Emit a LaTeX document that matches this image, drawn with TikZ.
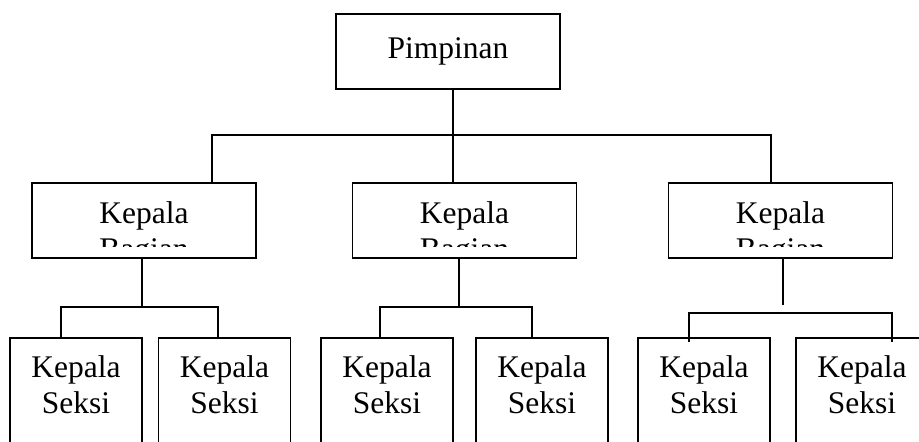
\documentclass[tikz,border=0pt]{standalone}
\usepackage{fontspec}
\setmainfont{Liberation Serif}
\usetikzlibrary{positioning, calc}
\tikzstyle{box} = [rectangle, draw=black, line width=1.8pt, inner sep=0pt, align=center, font=\fontsize{31.5}{36}\selectfont]
\tikzstyle{bagian} = [box, minimum width=224pt, minimum height=75pt]
\tikzstyle{seksi} = [box, anchor=north, minimum width=132pt, text height=76pt, text depth=60pt, inner ysep=0pt]
\tikzstyle{teks} = [inner sep=0pt, anchor=base, align=center, font=\fontsize{31.5}{36}\selectfont]
\tikzstyle{line} = [line width=1.8pt]

\begin{document}
\begin{tikzpicture}[x=1pt, y=-1pt]
  \useasboundingbox (0,0) rectangle (919,442);
  \clip (0,0) rectangle (919,442);

  % top
  \node[box, minimum width=224pt, minimum height=75pt] (pimpinan) at (448,51.5) {Pimpinan};

  % kepala bagian
  \node[bagian] (bagian1) at (144,220.5) {};
  \node[bagian] (bagian2) at (464.5,220.5) {};
  \node[bagian] (bagian3) at (780.5,220.5) {};
  \begin{scope}
    \clip (bagian1.north west) rectangle ([yshift=12pt]bagian1.south east);
    \node[teks] (teks1) at (144,259) {Kepala\\Bagian};
  \end{scope}
  \begin{scope}
    \clip (bagian2.north west) rectangle ([yshift=12pt]bagian2.south east);
    \node[teks] (teks2) at (464.5,259) {Kepala\\Bagian};
  \end{scope}
  \begin{scope}
    \clip (bagian3.north west) rectangle ([yshift=12pt]bagian3.south east);
    \node[teks] (teks3) at (780.5,259) {Kepala\\Bagian};
  \end{scope}

  % kepala seksi
  \node[seksi] (seksi11) at (76,337) {Kepala\\Seksi};
  \node[seksi] (seksi12) at (224.5,337) {Kepala\\Seksi};
  \node[seksi] (seksi21) at (387,337) {Kepala\\Seksi};
  \node[seksi] (seksi22) at (542,337) {Kepala\\Seksi};
  \node[seksi] (seksi31) at (704,337) {Kepala\\Seksi};
  \node[seksi] (seksi32) at (862,337) {Kepala\\Seksi};

  % lines from pimpinan
  \coordinate (atas) at (453,135);
  \coordinate (kiri) at (212,135);
  \coordinate (kanan) at (771,135);
  \draw[line] (pimpinan.south -| atas) -- (atas);
  \draw[line] (bagian1.north -| kiri) -- (kiri) -- (kanan) -- (bagian3.north -| kanan);
  \draw[line] (atas) -- (bagian2.north -| atas);

  % lines to seksi
  \coordinate (cab1) at (142,307);
  \coordinate (h11) at (61,307);
  \coordinate (h12) at (218,307);
  \draw[line] (bagian1.south -| cab1) -- (cab1);
  \draw[line] (seksi11.north -| h11) -- (h11) -- (h12) -- (seksi12.north -| h12);

  \coordinate (cab2) at (459,307);
  \coordinate (h21) at (380,307);
  \coordinate (h22) at (532,307);
  \draw[line] (bagian2.south -| cab2) -- (cab2);
  \draw[line] (seksi21.north -| h21) -- (h21) -- (h22) -- (seksi22.north -| h22);

  \coordinate (cab3) at (783,305);
  \coordinate (h31) at (689,313);
  \coordinate (h32) at (892,313);
  \draw[line] (bagian3.south -| cab3) -- (cab3);
  \draw[line] ([yshift=-5pt]seksi31.north -| h31) -- (h31) -- (h32) -- ([yshift=-5pt]seksi32.north -| h32);
\end{tikzpicture}
\end{document}
